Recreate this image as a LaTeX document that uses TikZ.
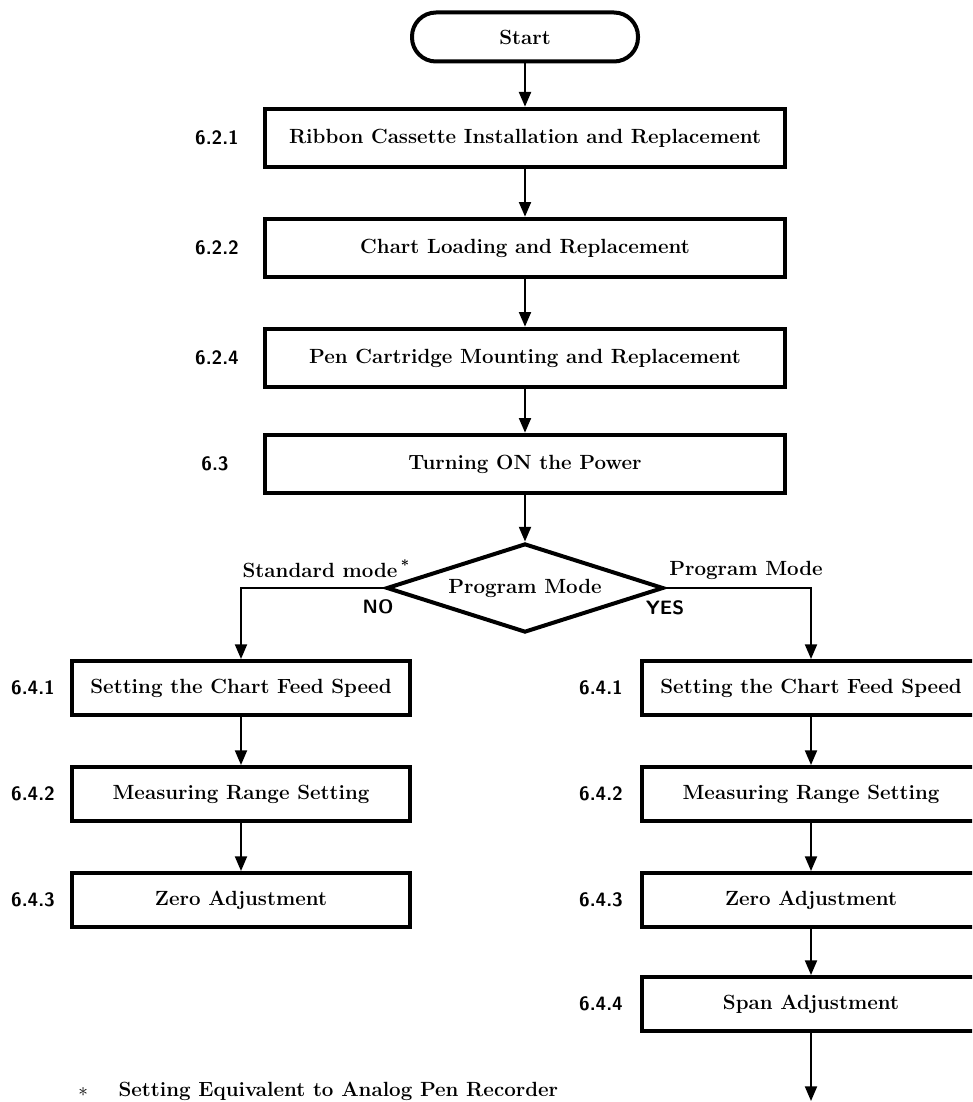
\documentclass[tikz,border=0pt]{standalone}
\usepackage{amsmath}
\usepackage{amssymb}
\usepackage{tikz}
\usetikzlibrary{shapes.geometric,arrows.meta}

\newcommand\boxfont{\fontsize{15.4}{17}\selectfont\bfseries}
\newcommand\numfont{\fontsize{14.5}{17}\selectfont\sffamily\bfseries}

\tikzset{
  stepbox/.style={draw,line width=3pt,minimum width=390pt,minimum height=44pt,inner sep=0pt,font=\boxfont},
  sidebox/.style={draw,line width=3pt,minimum width=253.5pt,minimum height=40.5pt,inner sep=0pt,font=\boxfont},
  startbox/.style={draw,line width=3pt,rounded corners=18pt,minimum width=169.5pt,minimum height=36.75pt,inner sep=0pt,font=\boxfont},
  decision/.style={draw,diamond,line width=3pt,aspect=3.1,minimum width=207.75pt,minimum height=66.75pt,inner sep=0pt,font=\boxfont},
  secnum/.style={inner sep=0pt,font=\numfont},
  flow/.style={line width=1.5pt,-{Triangle[length=11pt,width=9pt]}}
}

\begin{document}
\begin{tikzpicture}[x=0.75pt,y=0.75pt,yscale=-1]
        \clip (0,0) rectangle (972,1102);

        % Terminal
        \node [startbox] (start) at (525,37) {Start};

        % Main chain
        \node [stepbox] (ribbon) at (525,138) {Ribbon Cassette Installation and Replacement};
        \node [stepbox] (chart) at (525,248) {Chart Loading and Replacement};
        \node [stepbox] (pen) at (525,358) {Pen Cartridge Mounting and Replacement};
        \node [stepbox] (power) at (525,464) {Turning ON the Power};

        % Section numbers
        \node [secnum] (n621) at (217,138) {6.2.1};
        \node [secnum] (n622) at (217,248) {6.2.2};
        \node [secnum] (n624) at (217,358) {6.2.4};
        \node [secnum] (n63) at (215,464) {6.3};

        % Decision
        \node [decision] (mode) at (525,588) {Program Mode};
        \node [font=\boxfont,anchor=east,inner sep=0pt] (stdtext) at (410,569) {Standard mode\,\textsuperscript{*}};
        \node [font=\boxfont,anchor=west,inner sep=0pt] (progtext) at (669,570) {Program Mode};
        \node [secnum] (no) at (378,607) {NO};
        \node [secnum] (yes) at (665,608) {YES};

        % Standard mode column
        \node [sidebox] (lspeed) at (241,688) {Setting the Chart Feed Speed};
        \node [sidebox] (lrange) at (241,794) {Measuring Range Setting};
        \node [sidebox] (lzero) at (241,900) {Zero Adjustment};
        \node [secnum] (ln641) at (33,688) {6.4.1};
        \node [secnum] (ln642) at (33,794) {6.4.2};
        \node [secnum] (ln643) at (33,900) {6.4.3};

        % Program mode column
        \node [sidebox] (rspeed) at (811,688) {Setting the Chart Feed Speed};
        \node [sidebox] (rrange) at (811,794) {Measuring Range Setting};
        \node [sidebox] (rzero) at (811,900) {Zero Adjustment};
        \node [sidebox] (rspan) at (811,1004) {Span Adjustment};
        \node [secnum] (rn641) at (601,688) {6.4.1};
        \node [secnum] (rn642) at (601,794) {6.4.2};
        \node [secnum] (rn643) at (601,900) {6.4.3};
        \node [secnum] (rn644) at (601,1004) {6.4.4};
        \coordinate (rout) at (811,1101);

        % Footnote
        \node [font=\boxfont,anchor=west,inner sep=0pt] (note) at (78,1091) {$\ast$\hspace{23pt}Setting Equivalent to Analog Pen Recorder};

        % Connectors
        \draw [flow] (start) -- (ribbon);
        \draw [flow] (ribbon) -- (chart);
        \draw [flow] (chart) -- (pen);
        \draw [flow] (pen) -- (power);
        \draw [flow] (power) -- (mode);
        \draw [flow] (mode.west) -| (lspeed.north);
        \draw [flow] (mode.east) -| (rspeed.north);
        \draw [flow] (lspeed) -- (lrange);
        \draw [flow] (lrange) -- (lzero);
        \draw [flow] (rspeed) -- (rrange);
        \draw [flow] (rrange) -- (rzero);
        \draw [flow] (rzero) -- (rspan);
        \draw [flow] (rspan) -- (rout);

\end{tikzpicture}
\end{document}
